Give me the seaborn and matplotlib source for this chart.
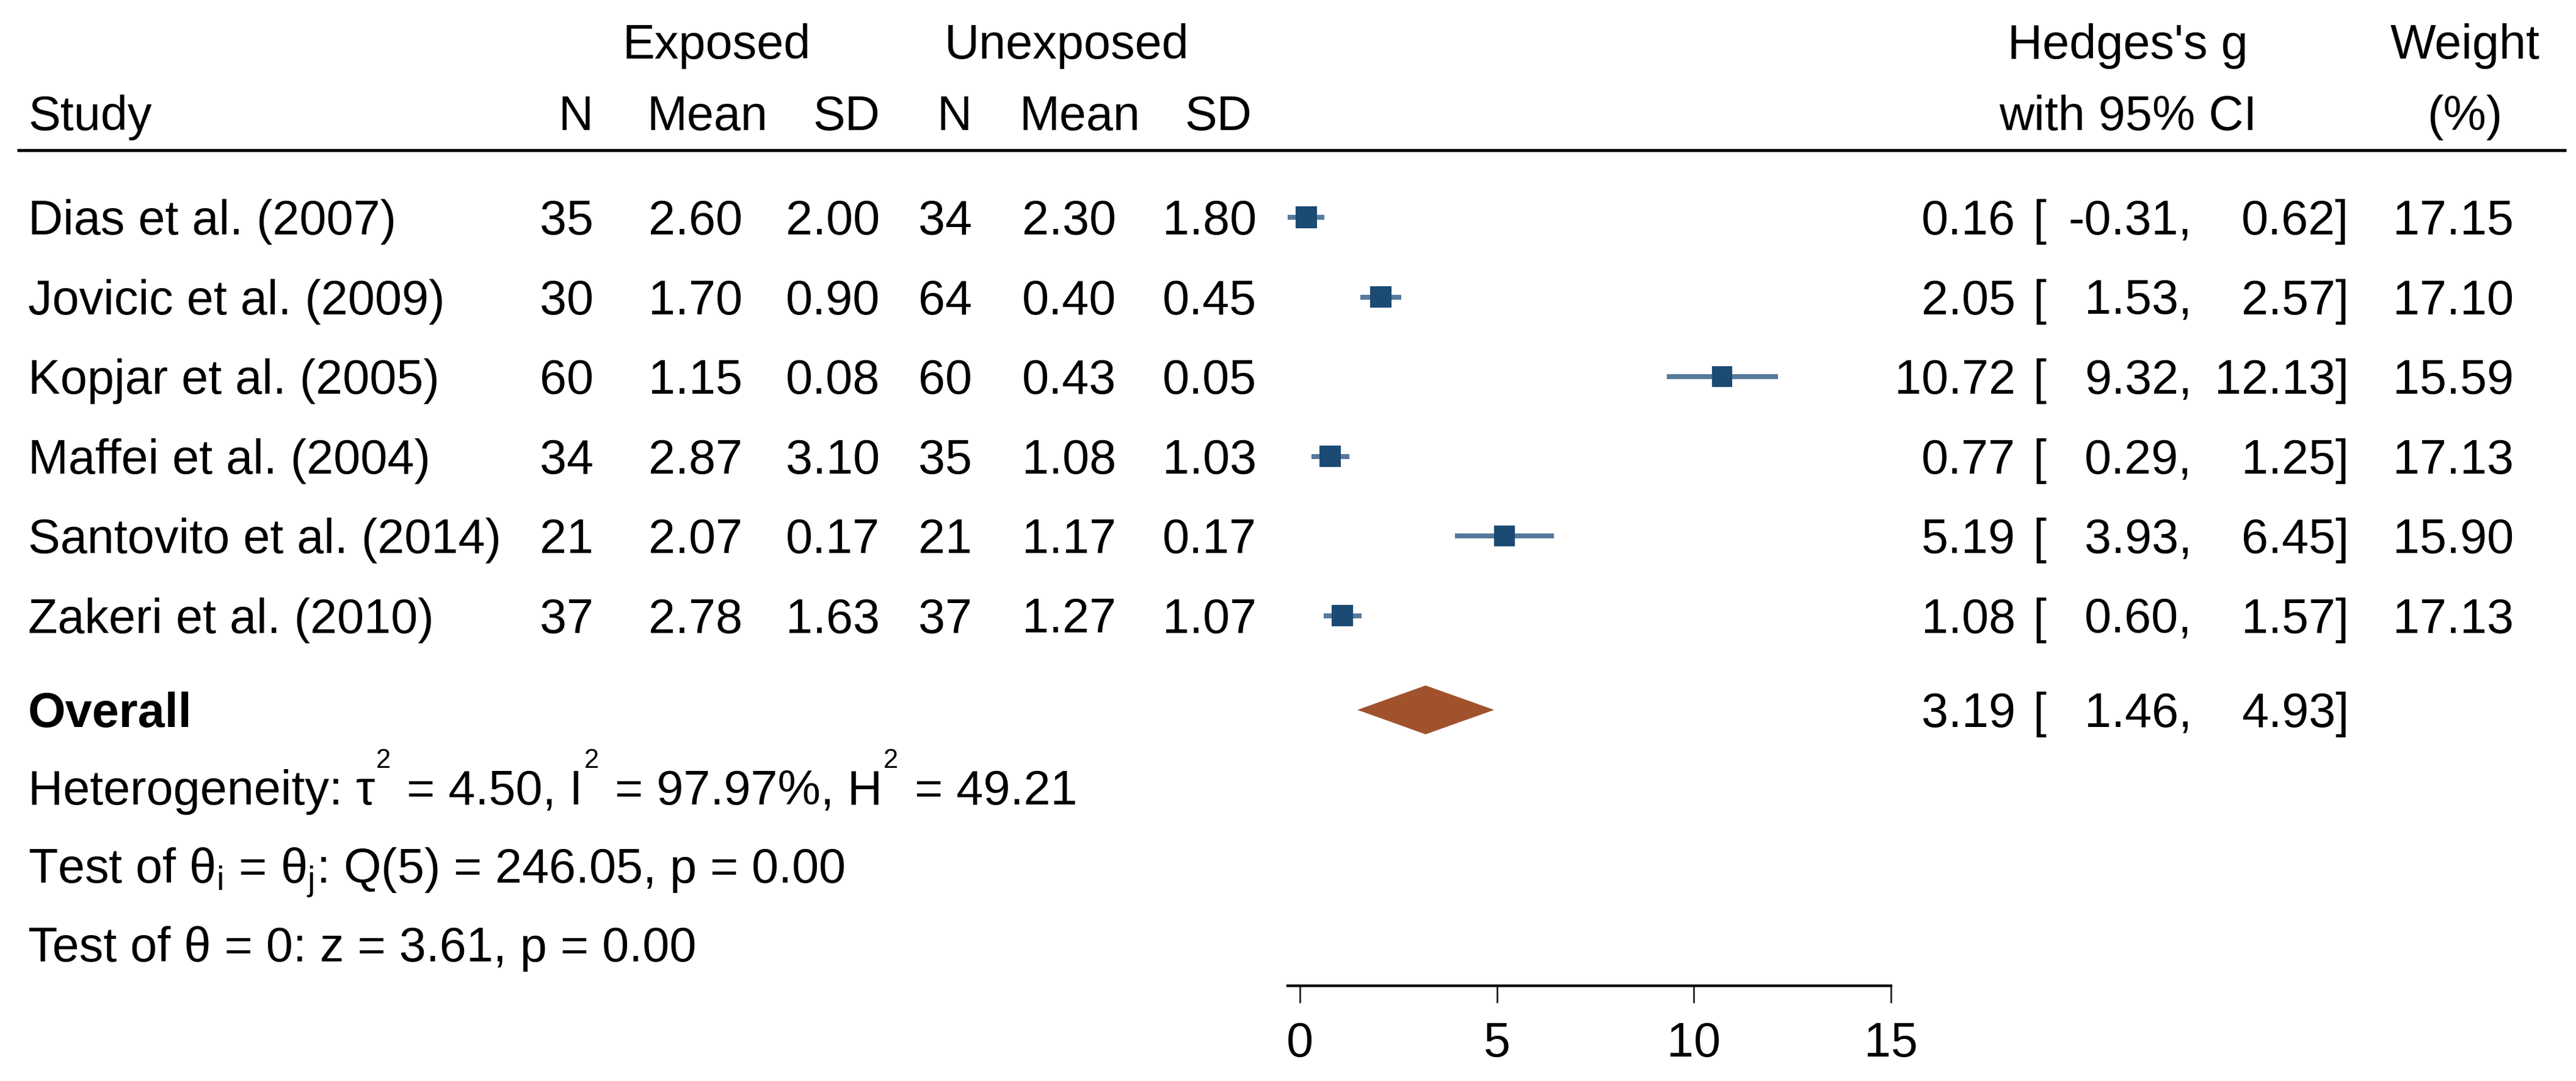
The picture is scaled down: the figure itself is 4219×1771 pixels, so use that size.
import matplotlib
matplotlib.use("Agg")
import matplotlib.pyplot as plt
import matplotlib.transforms as mtransforms
import seaborn as sns
import pandas as pd

studies = ["Dias et al. (2007)", "Jovicic et al. (2009)", "Kopjar et al. (2005)",
           "Maffei et al. (2004)", "Santovito et al. (2014)", "Zakeri et al. (2010)"]
exp_n = [35, 30, 60, 34, 21, 37]
exp_mean = [2.60, 1.70, 1.15, 2.87, 2.07, 2.78]
exp_sd = [2.00, 0.90, 0.08, 3.10, 0.17, 1.63]
unexp_n = [34, 64, 60, 35, 21, 37]
unexp_mean = [2.30, 0.40, 0.43, 1.08, 1.17, 1.27]
unexp_sd = [1.80, 0.45, 0.05, 1.03, 0.17, 1.07]
hedges_g = [0.16, 2.05, 10.72, 0.77, 5.19, 1.08]
ci_lower = [-0.31, 1.53, 9.32, 0.29, 3.93, 0.60]
ci_upper = [0.62, 2.57, 12.13, 1.25, 6.45, 1.57]
weight = [17.15, 17.10, 15.59, 17.13, 15.90, 17.13]

overall_g = 3.19
overall_lower = 1.46
overall_upper = 4.93

ticks = [0, 5, 10, 15]
# (text, superscript?) pieces of the heterogeneity line
het_parts = [("Heterogeneity: τ", False), ("2", True), (" = 4.50, I", False), ("2", True),
             (" = 97.97%, H", False), ("2", True), (" = 49.21", False)]
test_lines = ["Test of θ$_i$ = θ$_j$: Q(5) = 246.05, p = 0.00",
              "Test of θ = 0: z = 3.61, p = 0.00"]

df = pd.DataFrame({"study": studies, "g": hedges_g, "lo": ci_lower,
                   "hi": ci_upper, "w": weight})

# layout in output pixels (figure is 4219 x 1771)
W, H = 4219, 1771
x0_px, unit_px = 2129, 64.53
row_y0, row_step = 356, 130.5
df["y"] = [row_y0 + row_step * i for i in range(len(df))]
overall_y = 1163
fs = 28.5
base = 28  # centre -> baseline offset in px

sns.set_theme(style="white")
plt.rcParams["font.family"] = ["Liberation Sans", "DejaVu Sans"]
plt.rcParams["mathtext.fontset"] = "custom"
plt.rcParams["mathtext.rm"] = "Liberation Sans"
plt.rcParams["mathtext.it"] = "Liberation Sans:italic"
plt.rcParams["mathtext.default"] = "regular"

fig = plt.figure(figsize=(W / 200, H / 200), dpi=200)
ax = fig.add_axes([0, 0, 1, 1])
ax.set_xlim(-x0_px / unit_px, (W - x0_px) / unit_px)
ax.set_ylim(H, 0)

navy = "#1b4a73"
ci_col = "#56799c"
ax.hlines(df["y"], df["lo"], df["hi"], color=ci_col, lw=2.9, zorder=2)
sns.scatterplot(data=df, x="g", y="y", size="w", sizes=(0, 159), size_norm=(0, max(weight)),
                marker="s", color=navy, linewidth=0, legend=False, ax=ax, zorder=3)

dh = 40
ax.fill([overall_lower, overall_g, overall_upper, overall_g],
        [overall_y, overall_y - dh, overall_y, overall_y + dh],
        color="#a0522d", lw=0, zorder=3)

# x axis under the forest
for s in ["top", "left", "right"]:
    ax.spines[s].set_visible(False)
ax.spines["bottom"].set_position(("data", 1615))
ax.spines["bottom"].set_bounds(min(ci_lower), max(ticks))
ax.spines["bottom"].set_linewidth(1.6)
ax.spines["bottom"].set_color("black")
ax.set_xticks(ticks)
ax.set_xticklabels([str(t) for t in ticks])
ax.tick_params(axis="x", bottom=True, direction="out", length=10, width=1.0,
               color="#222222", labelsize=fs, pad=11, labelcolor="black")
ax.set_yticks([])
ax.set_xlabel("")
ax.set_ylabel("")

tr = mtransforms.blended_transform_factory(ax.transAxes, ax.transData)


def txt(xp, yc, s, ha="left", **kw):
    return ax.text(xp / W, yc + base, s, ha=ha, va="baseline", fontsize=fs,
                   color="black", transform=tr, **kw)


# header
txt(1174, 68, "Exposed", ha="center")
txt(1747, 68, "Unexposed", ha="center")
txt(3485, 68, "Hedges's g", ha="center")
txt(4037, 68, "Weight", ha="center")
txt(46, 185, "Study")
txt(972, 185, "N", ha="right")
txt(1060, 185, "Mean")
txt(1441, 185, "SD", ha="right")
txt(1592, 185, "N", ha="right")
txt(1670, 185, "Mean")
txt(2050, 185, "SD", ha="right")
txt(3485, 185, "with 95% CI", ha="center")
txt(4037, 185, "(%)", ha="center")
ax.plot([28 / W, 4203 / W], [246, 246], color="black", lw=1.8,
        transform=tr, solid_capstyle="butt")

xe, xb, xl, xu, xw = 3301, 3329, 3590, 3847, 4117
for i, r in df.iterrows():
    y = r["y"]
    txt(46, y, r["study"])
    txt(972, y, f"{exp_n[i]}", ha="right")
    txt(1062, y, f"{exp_mean[i]:.2f}")
    txt(1441, y, f"{exp_sd[i]:.2f}", ha="right")
    txt(1592, y, f"{unexp_n[i]}", ha="right")
    txt(1674, y, f"{unexp_mean[i]:.2f}")
    txt(2058, y, f"{unexp_sd[i]:.2f}", ha="right")
    txt(xe, y, f"{r['g']:.2f}", ha="right")
    txt(xb, y, "[")
    txt(xl, y, f"{r['lo']:.2f},", ha="right")
    txt(xu, y, f"{r['hi']:.2f}]", ha="right")
    txt(xw, y, f"{r['w']:.2f}", ha="right")

txt(46, overall_y, "Overall", fontweight="bold")
txt(xe, overall_y, f"{overall_g:.2f}", ha="right")
txt(xb, overall_y, "[")
txt(xl, overall_y, f"{overall_lower:.2f},", ha="right")
txt(xu, overall_y, f"{overall_upper:.2f}]", ha="right")

# heterogeneity line with small raised superscripts
renderer = fig.canvas.get_renderer()
xpos = 46
het_y = 1290
for piece, sup in het_parts:
    if sup:
        t = ax.text(xpos / W, het_y + base - 60, piece, ha="left", va="baseline",
                    fontsize=fs * 0.55, color="black", transform=tr)
    else:
        t = txt(xpos, het_y, piece)
    bb = t.get_window_extent(renderer)
    xpos = bb.x1 + (4 if sup else 2)

for k, line in enumerate(test_lines):
    txt(46, het_y + 128.5 * (k + 1), line)

fig.savefig("out.png", dpi=200, facecolor="white")
